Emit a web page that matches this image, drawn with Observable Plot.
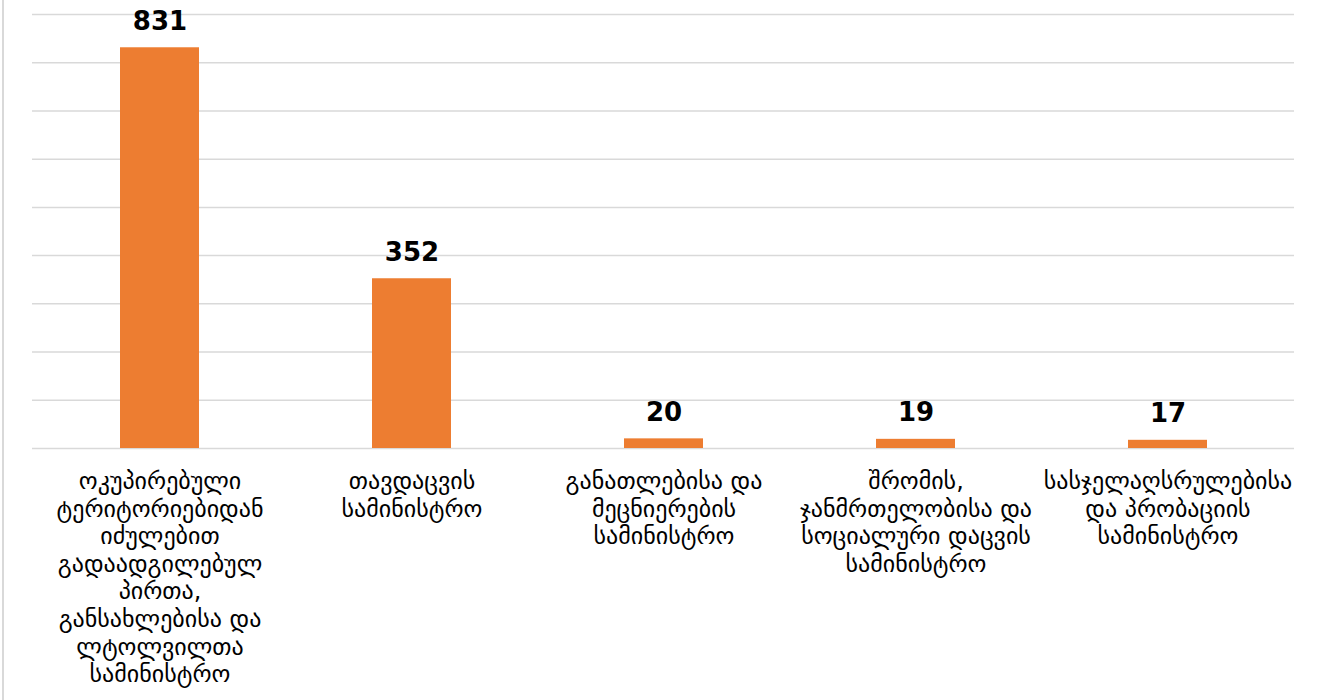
<!DOCTYPE html>
<html>
<head>
<meta charset="utf-8">
<script src="https://cdn.jsdelivr.net/npm/d3@7"></script>
<script src="https://cdn.jsdelivr.net/npm/@observablehq/plot@0.6"></script>
<style>
  html, body { margin: 0; padding: 0; background: #fff; }
  #wrap { position: relative; width: 1321px; height: 700px; overflow: hidden; }
  #border { position: absolute; left: 2px; top: 0; width: 1.5px; height: 700px; background: #d9d9d9; }
  #chart { position: absolute; left: 0; top: 0; }
</style>
</head>
<body>
<div id="wrap"><div id="border"></div><div id="chart"></div></div>
<script>
const categories = [
  "ოკუპირებული\nტერიტორიებიდან\nიძულებით\nგადაადგილებულ\nპირთა,\nგანსახლებისა და\nლტოლვილთა\nსამინისტრო",
  "თავდაცვის\nსამინისტრო",
  "განათლებისა და\nმეცნიერების\nსამინისტრო",
  "შრომის,\nჯანმრთელობისა და\nსოციალური დაცვის\nსამინისტრო",
  "სასჯელაღსრულებისა\nდა პრობაციის\nსამინისტრო"
];
const values = [831, 352, 20, 19, 17];
const gridTicks = [0, 100, 200, 300, 400, 500, 600, 700, 800, 900];

const data = categories.map((c, i) => ({category: c, value: values[i]}));

const chart = Plot.plot({
  width: 1321,
  height: 700,
  marginLeft: 32,
  marginRight: 27,
  marginTop: 14,
  marginBottom: 252,
  style: {fontFamily: "DejaVu Sans", background: "transparent"},
  x: {domain: categories, paddingInner: 0.687, paddingOuter: 0.3435, label: null},
  y: {domain: [0, 900], axis: null},
  marks: [
    Plot.ruleY(gridTicks, {stroke: "#d9d9d9", strokeWidth: 1.5}),
    Plot.barY(data, {x: "category", y: "value", fill: "#ED7D31"}),
    Plot.text(data, {x: "category", y: "value", text: d => String(d.value), lineAnchor: "bottom", dy: -18, fontSize: 26, fontWeight: "bold", fill: "#000"}),
    Plot.axisX({tickSize: 0, tickPadding: 21, fontSize: 24, fill: "#000", lineHeight: 1.15, label: null, textOverflow: null, lineWidth: Infinity})
  ]
});
document.getElementById("chart").appendChild(chart);
</script>
</body>
</html>
